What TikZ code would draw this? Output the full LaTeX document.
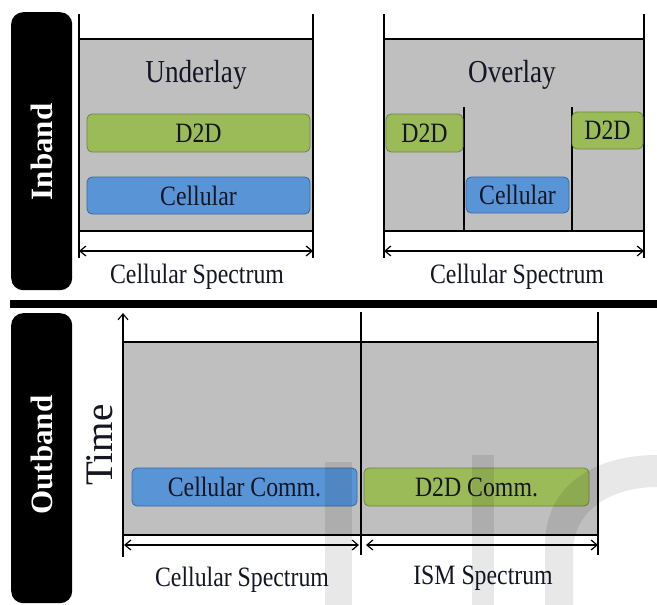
\documentclass[tikz,border=0pt]{standalone}
\usepackage{fontspec}
\setmainfont{Liberation Serif}
\newfontfamily\narrowserif[FakeStretch=0.85]{Liberation Serif}
\usetikzlibrary{arrows.meta}
\definecolor{panelgray}{RGB}{191,191,191}
\definecolor{dgreen}{RGB}{155,187,89}
\definecolor{dgreenb}{RGB}{110,135,60}
\definecolor{dblue}{RGB}{88,148,214}
\definecolor{dblueb}{RGB}{60,105,160}
\definecolor{txt}{RGB}{20,22,35}
\tikzset{
  panel/.style={fill=panelgray,draw=black,line width=1.4pt},
  axisline/.style={draw=black,line width=1.1pt},
  greenbar/.style={draw=dgreenb,fill=dgreen,rounded corners=5pt,line width=0.8pt},
  bluebar/.style={draw=dblueb,fill=dblue,rounded corners=5pt,line width=0.8pt},
  bandbox/.style={fill=black,rounded corners=12pt},
  spanarrow/.style={line width=1.2pt,{Straight Barb[length=6pt,width=10pt]}-{Straight Barb[length=6pt,width=10pt]}},
  lbl/.style={font=\narrowserif\fontsize{28}{32}\selectfont,text=txt,inner sep=0pt},
  title/.style={font=\narrowserif\fontsize{32}{36}\selectfont,text=txt,inner sep=0pt},
  bandlbl/.style={font=\bfseries\fontsize{31}{34}\selectfont,text=white,rotate=90,inner sep=0pt},
  wmark/.style={fill=black,opacity=0.09}
}
\begin{document}
\begin{tikzpicture}[x=1pt,y=-1pt]
\useasboundingbox (0,0) rectangle (657,605);
\fill[white] (0,0) rectangle (657,605);

% ---------- Inband ----------
\node[bandbox,minimum width=61pt,minimum height=278pt,anchor=north west] (inbox) at (11,12) {};
\node[bandlbl] (inlbl) at (42,152) {Inband};

% Underlay panel
\fill[panel] (79,39) rectangle (313,231);
\coordinate (uLt) at (79,14); \coordinate (uLb) at (79,258);
\coordinate (uRt) at (313,14); \coordinate (uRb) at (313,258);
\draw[axisline] (uLt) -- (uLb);
\draw[axisline] (uRt) -- (uRb);
\node[title] (under) at (196,75) {Underlay};
\node[greenbar,minimum width=223pt,minimum height=38pt] (ud2d) at (198.5,133) {};
\node[lbl] at (ud2d) {D2D};
\node[bluebar,minimum width=223pt,minimum height=37pt] (ucell) at (198.5,195.5) {};
\node[lbl] at (ucell) {Cellular};
\coordinate (ua1) at (79,251); \coordinate (ua2) at (313,251);
\draw[spanarrow] (ua1) -- (ua2);
\node[lbl] (uspec) at (197,277) {Cellular Spectrum};

% Overlay panel
\fill[panel] (384,39) rectangle (644,231);
\coordinate (oLt) at (384,14); \coordinate (oLb) at (384,258);
\coordinate (oRt) at (644,14); \coordinate (oRb) at (644,258);
\draw[axisline] (oLt) -- (oLb);
\draw[axisline] (oRt) -- (oRb);
\coordinate (om1t) at (464,107); \coordinate (om1b) at (464,231);
\coordinate (om2t) at (572,107); \coordinate (om2b) at (572,231);
\draw[axisline] (om1t) -- (om1b);
\draw[axisline] (om2t) -- (om2b);
\node[title] (over) at (512,75) {Overlay};
\node[greenbar,minimum width=77pt,minimum height=38pt] (od2da) at (424.5,133) {};
\node[lbl] at (od2da) {D2D};
\node[greenbar,minimum width=71pt,minimum height=37pt] (od2db) at (607.5,130.5) {};
\node[lbl] at (od2db) {D2D};
\node[bluebar,minimum width=103pt,minimum height=36pt] (ocell) at (517.5,195) {};
\node[lbl] at (ocell) {Cellular};
\coordinate (oa1) at (384,251); \coordinate (oa2) at (644,251);
\draw[spanarrow] (oa1) -- (oa2);
\node[lbl] (ospec) at (517,277) {Cellular Spectrum};

% ---------- separator ----------
\fill[black] (10,300) rectangle (657,308);

% ---------- Outband ----------
\node[bandbox,minimum width=61pt,minimum height=290pt,anchor=north west] (outbox) at (11,313) {};
\node[bandlbl] (outlbl) at (42,455) {Outband};

\fill[panel] (123,342) rectangle (598,535);
\coordinate (tb) at (123,557); \coordinate (tt) at (123,313);
\draw[line width=1.1pt,-{Straight Barb[length=6pt,width=10pt]}] (tb) -- (tt);
\coordinate (mt) at (361,312); \coordinate (mb) at (361,555);
\draw[axisline] (mt) -- (mb);
\coordinate (rt) at (598,312); \coordinate (rb) at (598,555);
\draw[axisline] (rt) -- (rb);
\node[font=\fontsize{39}{42}\selectfont,text=txt,rotate=90,inner sep=0pt] (time) at (100,445) {Time};

\node[bluebar,minimum width=225pt,minimum height=38pt] (ccomm) at (244.5,487) {};
\node[lbl] at (ccomm) {Cellular Comm.};
\node[greenbar,minimum width=225pt,minimum height=38pt] (dcomm) at (476.5,487) {};
\node[lbl] at (dcomm) {D2D Comm.};

\coordinate (ba1) at (124,545); \coordinate (ba2) at (359,545);
\draw[spanarrow] (ba1) -- (ba2);
\coordinate (bb1) at (366,545); \coordinate (bb2) at (598,545);
\draw[spanarrow] (bb1) -- (bb2);
\node[lbl] (cspec) at (242,580) {Cellular Spectrum};
\node[lbl] (ispec) at (483,578) {ISM Spectrum};

% ---------- watermark ----------
\fill[wmark] (325,462) rectangle (352,605);
\fill[wmark] (472,455) rectangle (494,605);
\fill[wmark] (545,605) -- (545,545) .. controls (545,485) and (595,455) .. (657,455)
  -- (657,487) .. controls (612,487) and (573,510) .. (573,552) -- (573,605) -- cycle;
\end{tikzpicture}
\end{document}
